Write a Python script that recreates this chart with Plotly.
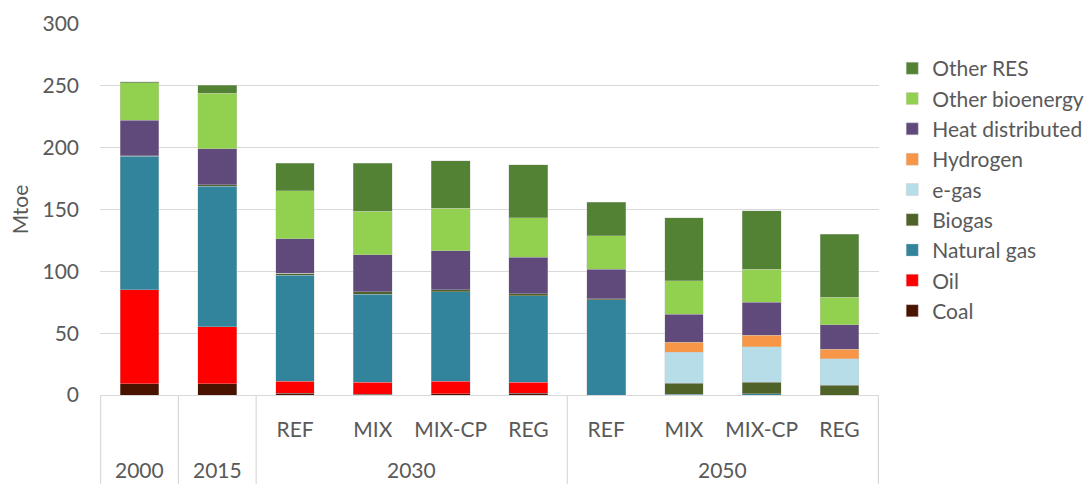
import plotly.graph_objects as go

# Category hierarchy: outer (year) and inner (scenario)
categories = ["2000", "2015", "2030 REF", "2030 MIX", "2030 MIX-CP", "2030 REG",
              "2050 REF", "2050 MIX", "2050 MIX-CP", "2050 REG"]
scenario_labels = ["", "", "REF", "MIX", "MIX-CP", "REG", "REF", "MIX", "MIX-CP", "REG"]
year_labels = ["2000", "2015", "2030", "2050"]
year_spans = [(0, 0), (1, 1), (2, 5), (6, 9)]  # first/last category index per year

# Final energy by carrier (Mtoe)
coal = [9, 9, 1.3, 0.5, 1, 1.3, 0, 0, 0, 0]
oil = [76, 46, 10, 10, 10, 9, 0, 0, 0, 0]
natural_gas = [108, 114, 85.7, 71, 72.5, 70, 77, 0.5, 1.2, 0]
biogas = [0.5, 1, 1.3, 2, 1.6, 1.4, 0.8, 9, 9.3, 8]
e_gas = [0, 0, 0, 0, 0, 0, 0, 25, 28.5, 21.5]
hydrogen = [0, 0, 0, 0, 0, 0, 0, 8, 9.5, 7.4]
heat_distributed = [28.5, 29, 28, 30, 31.5, 29.5, 24, 23, 26.5, 20]
other_bioenergy = [30.5, 45, 39, 35, 34.5, 32, 27, 27, 26.7, 22]
other_res = [1, 6.5, 22, 39, 38.5, 43, 27, 51, 47.4, 51]

series = [
    ("Coal", coal, "#4A1300"),
    ("Oil", oil, "#FF0000"),
    ("Natural gas", natural_gas, "#31849B"),
    ("Biogas", biogas, "#4F6228"),
    ("e-gas", e_gas, "#B7DEE8"),
    ("Hydrogen", hydrogen, "#F79646"),
    ("Heat distributed", heat_distributed, "#604A7B"),
    ("Other bioenergy", other_bioenergy, "#92D050"),
    ("Other RES", other_res, "#548235"),
]

FONT = "Lato"
FS = 21
TEXT = "#595959"
GRID = "#D9D9D9"

fig = go.Figure()
for name, vals, color in series:
    fig.add_trace(go.Bar(
        x=categories,
        y=vals,
        name=name,
        marker=dict(color=color, line=dict(color="rgba(200,200,200,0.6)", width=0.6)),
    ))

# Year labels on a second row below the scenario labels
annotations = []
for label, (a, b) in zip(year_labels, year_spans):
    annotations.append(dict(
        x=(a + b) / 2, y=-0.202, xref="x", yref="paper",
        text=label, showarrow=False, xanchor="center", yanchor="middle",
        font=dict(family=FONT, size=FS, color=TEXT),
    ))

# Divider lines between year groups, running through both label rows
shapes = []
for xpos in [-0.5, 0.5, 1.5, 5.5, 9.5]:
    shapes.append(dict(
        type="line", xref="x", yref="paper",
        x0=xpos, x1=xpos, y0=0, y1=-0.24,
        line=dict(color=GRID, width=1.2),
    ))

fig.update_layout(
    barmode="stack",
    bargap=0.5,
    width=1088,
    height=484,
    margin=dict(l=100, r=209, t=24, b=89, autoexpand=False),
    plot_bgcolor="white",
    paper_bgcolor="white",
    font=dict(family=FONT, size=FS, color=TEXT),
    legend=dict(
        traceorder="reversed",
        x=1.017, y=0.935, xanchor="left", yanchor="top",
        font=dict(family=FONT, size=FS, color=TEXT),
        itemwidth=30,
    ),
    annotations=annotations,
    shapes=shapes,
    showlegend=True,
)
fig.update_yaxes(
    range=[0, 300],
    dtick=50,
    showgrid=True,
    gridcolor=GRID,
    gridwidth=1.2,
    zeroline=False,
    showline=False,
    ticks="",
    ticklabelstandoff=20,
    title=dict(text="Mtoe", standoff=8, font=dict(family=FONT, size=FS, color=TEXT)),
)
fig.update_xaxes(
    type="category",
    tickvals=categories,
    ticktext=scenario_labels,
    showline=True,
    linecolor=GRID,
    linewidth=1.2,
    ticks="",
    ticklabelstandoff=16,
    tickfont=dict(family=FONT, size=FS, color=TEXT),
)

fig.write_html("out.html")
